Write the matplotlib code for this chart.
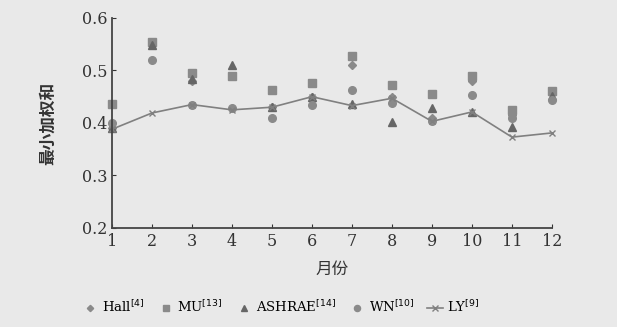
import matplotlib.pyplot as plt
import numpy as np

plt.rcParams['font.family'] = ['DejaVu Serif', 'Noto Sans CJK SC']

months = np.arange(1, 13)
hall = [0.39, 0.55, 0.48, 0.49, 0.43, 0.45, 0.51, 0.45, 0.41, 0.48, 0.415, 0.455]
mu = [0.437, 0.555, 0.496, 0.49, 0.463, 0.476, 0.527, 0.473, 0.455, 0.49, 0.425, 0.46]
ashrae = [0.39, 0.548, 0.483, 0.51, 0.43, 0.45, 0.437, 0.402, 0.428, 0.421, 0.392, 0.452]
wn = [0.40, 0.52, 0.435, 0.428, 0.41, 0.435, 0.463, 0.438, 0.404, 0.454, 0.41, 0.444]
ly = [0.388, 0.419, 0.435, 0.425, 0.43, 0.45, 0.433, 0.447, 0.403, 0.421, 0.373, 0.381]

bg = '#e9e9e9'
mc = '#8a8a8a'
fig = plt.figure(figsize=(6.17, 3.27), dpi=100, facecolor=bg)
ax = fig.add_axes([0.1815, 0.303, 0.713, 0.642], facecolor=bg)

kw = dict(ls='none', clip_on=False)
ax.plot(months, hall, 'D', color=mc, ms=4, label=r'Hall$^{[4]}$', **kw)
ax.plot(months, mu, 's', color=mc, ms=5.5, label=r'MU$^{[13]}$', **kw)
ax.plot(months, ashrae, '^', color='#666666', ms=5.5, label=r'ASHRAE$^{[14]}$', **kw)
ax.plot(months, wn, 'o', color=mc, ms=5.5, label=r'WN$^{[10]}$', **kw)
ax.plot(months, ly, '-x', color='#808080', ms=5, lw=1.2, clip_on=False, label=r'LY$^{[9]}$')

ax.set_xlim(1, 12)
ax.set_ylim(0.2, 0.6)
ax.set_xticks(months)
ax.set_yticks([0.2, 0.3, 0.4, 0.5, 0.6])
ax.set_yticklabels(['0.2', '0.3', '0.4', '0.5', '0.6'])
ax.tick_params(direction='in', length=3, labelsize=11.5, colors='#333333')
for s in ['top', 'right']:
    ax.spines[s].set_visible(False)
for s in ['left', 'bottom']:
    ax.spines[s].set_color('#444444')
    ax.spines[s].set_linewidth(1.3)

ax.set_xlabel('月份', fontsize=12, family='Noto Sans CJK SC', color='#333333', labelpad=8)
ax.set_ylabel('最小加权和', fontsize=12, family='Noto Sans CJK SC', color='#333333',
              fontweight='bold', labelpad=18)

fig.legend(loc='lower center', bbox_to_anchor=(0.455, 0.0), ncol=5, frameon=False,
           fontsize=9.5, handlelength=1.2, columnspacing=1.0, handletextpad=0.3,
           markerscale=0.8)

plt.savefig('out.png', dpi=100, facecolor=bg)
